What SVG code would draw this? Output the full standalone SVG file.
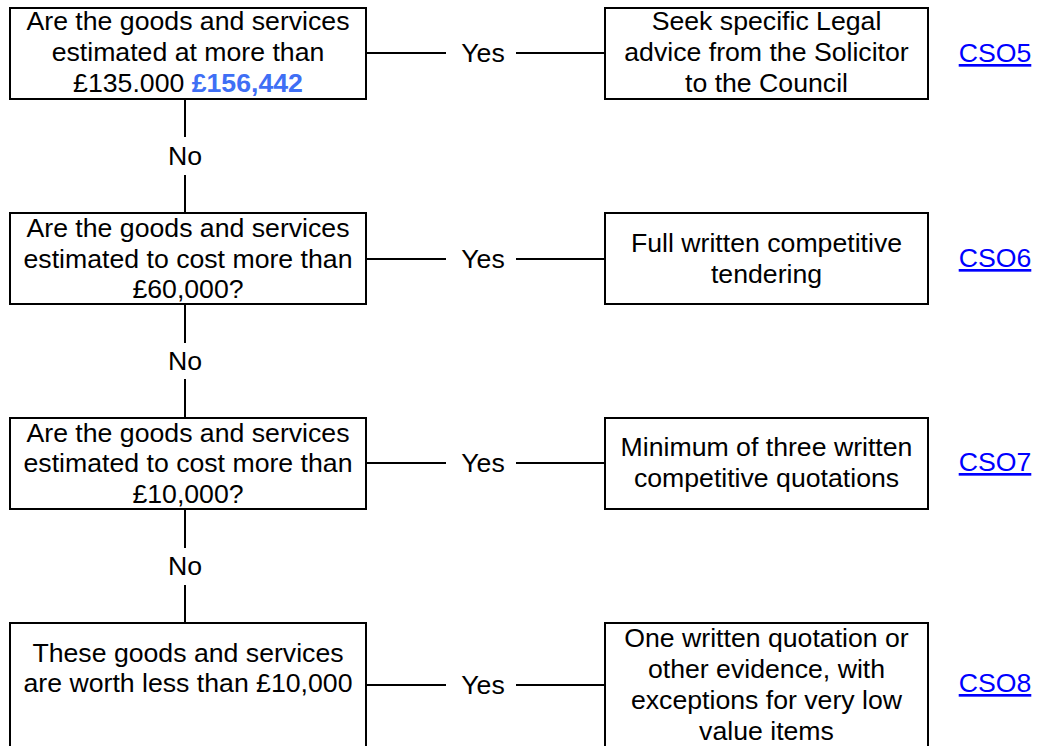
<svg xmlns="http://www.w3.org/2000/svg" width="1039" height="746" viewBox="0 0 1039 746">
<style>
.box{fill:#fff;stroke:#000;stroke-width:2}
.ln{stroke:#000;stroke-width:2;fill:none}
text{font-family:"Liberation Sans",Arial,sans-serif;font-size:26.67px;fill:#000;text-anchor:middle}
.lnk{fill:#0000ff;text-decoration:underline}
.hl{fill:#3f6ff5;font-weight:bold}
</style>
<rect width="1039" height="746" fill="#fff"/>
<g id="connectors">
<path class="ln" d="M185 99V137M185 175V213M185 304V343M185 379V418M185 509V548M185 585V623"/>
<path class="ln" d="M366 53H446M516 53H605M366 259H446M516 259H605M366 463H446M516 463H605M366 685H446M516 685H605"/>
<text x="185" y="165">No</text>
<text x="185" y="370">No</text>
<text x="185" y="575">No</text>
<text x="483" y="62">Yes</text>
<text x="483" y="268">Yes</text>
<text x="483" y="472">Yes</text>
<text x="483" y="694">Yes</text>
</g>
<g id="q1">
<rect class="box" x="10" y="8" width="356" height="91"/>
<text x="188" y="30">Are the goods and services</text>
<text x="188" y="61">estimated at more than</text>
<text x="188" y="92">£135.000 <tspan class="hl">£156,442</tspan></text>
</g>
<g id="a1">
<rect class="box" x="605" y="8" width="323" height="91"/>
<text x="766.5" y="30">Seek specific Legal</text>
<text x="766.5" y="61">advice from the Solicitor</text>
<text x="766.5" y="92">to the Council</text>
</g>
<g id="l1"><text class="lnk" x="995" y="62">CSO5</text></g>
<g id="q2">
<rect class="box" x="10" y="213" width="356" height="91"/>
<text x="188" y="237">Are the goods and services</text>
<text x="188" y="268">estimated to cost more than</text>
<text x="188" y="298">£60,000?</text>
</g>
<g id="a2">
<rect class="box" x="605" y="213" width="323" height="91"/>
<text x="766.5" y="252">Full written competitive</text>
<text x="766.5" y="283">tendering</text>
</g>
<g id="l2"><text class="lnk" x="995" y="267">CSO6</text></g>
<g id="q3">
<rect class="box" x="10" y="418" width="356" height="91"/>
<text x="188" y="442">Are the goods and services</text>
<text x="188" y="472">estimated to cost more than</text>
<text x="188" y="503">£10,000?</text>
</g>
<g id="a3">
<rect class="box" x="605" y="418" width="323" height="91"/>
<text x="766.5" y="456">Minimum of three written</text>
<text x="766.5" y="487">competitive quotations</text>
</g>
<g id="l3"><text class="lnk" x="995" y="471">CSO7</text></g>
<g id="q4">
<rect class="box" x="10" y="623" width="356" height="140"/>
<text x="188" y="662">These goods and services</text>
<text x="188" y="692">are worth less than £10,000</text>
</g>
<g id="a4">
<rect class="box" x="605" y="623" width="323" height="140"/>
<text x="766.5" y="647">One written quotation or</text>
<text x="766.5" y="678">other evidence, with</text>
<text x="766.5" y="709">exceptions for very low</text>
<text x="766.5" y="740">value items</text>
</g>
<g id="l4"><text class="lnk" x="995" y="692">CSO8</text></g>
</svg>
